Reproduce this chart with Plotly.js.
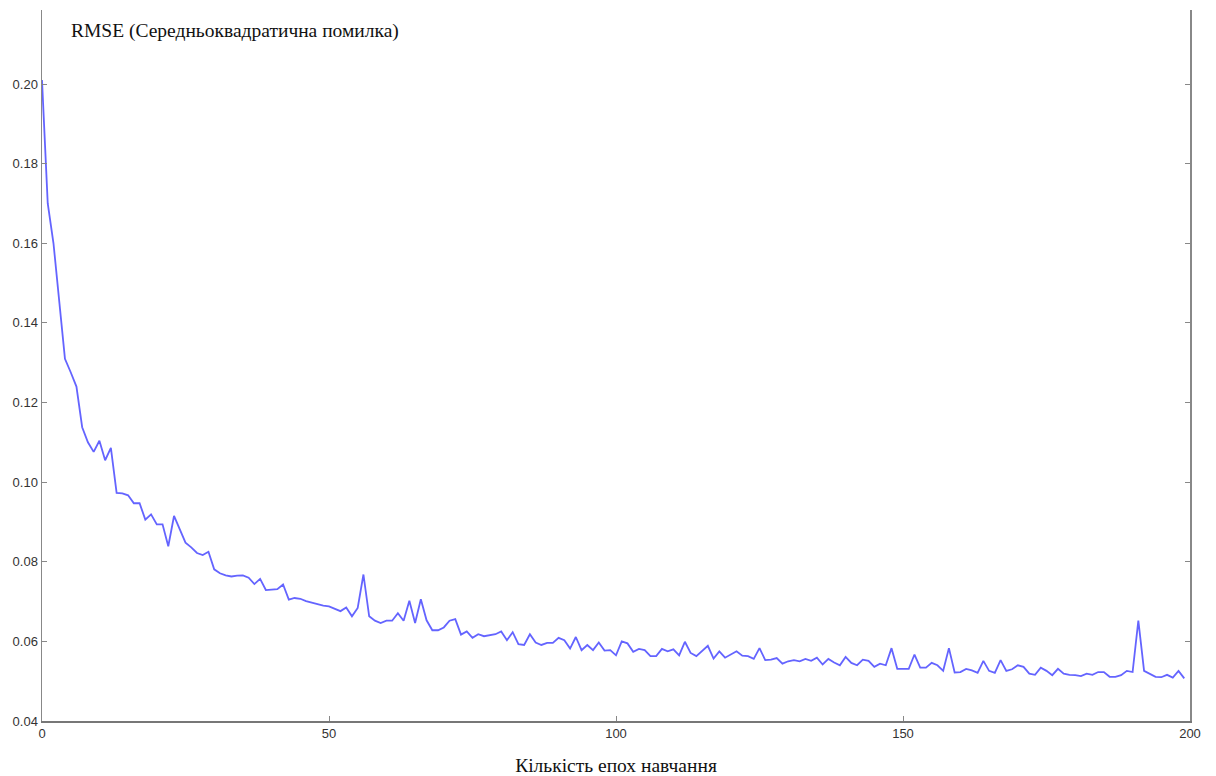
<!DOCTYPE html>
<html>
<head>
<meta charset="utf-8">
<script src="https://cdn.plot.ly/plotly-3.0.1.min.js"></script>
<style>
  html, body { margin: 0; padding: 0; background: #ffffff; }
  #chart { width: 1216px; height: 776px; }
</style>
</head>
<body>
<div id="chart"></div>
<script>
// RMSE per training epoch (epochs 0..199)
const rmse = [
  0.201, 0.170, 0.160, 0.146, 0.131, 0.1276, 0.124, 0.1138, 0.110, 0.1076,
  0.1104, 0.1055, 0.1086, 0.0973, 0.0972, 0.0967, 0.0947, 0.0947, 0.0906, 0.0919,
  0.0894, 0.0894, 0.0839, 0.0915, 0.0879, 0.0848, 0.0836, 0.0822, 0.0817, 0.0825,
  0.0781, 0.0771, 0.0766, 0.0763, 0.0765, 0.0766, 0.0760, 0.0744, 0.0757, 0.0729,
  0.0730, 0.0731, 0.0743, 0.0705, 0.0709, 0.0707, 0.0701, 0.0697, 0.0693, 0.0690,
  0.0688, 0.0682, 0.0676, 0.0685, 0.0663, 0.0684, 0.0768, 0.0663, 0.0652, 0.0646,
  0.0652, 0.0652, 0.0671, 0.0652, 0.0702, 0.0646, 0.0706, 0.0653, 0.0628, 0.0628,
  0.0635, 0.0652, 0.0656, 0.0617, 0.0625, 0.0609, 0.0618, 0.0613, 0.0616, 0.0618,
  0.0625, 0.0603, 0.0623, 0.0593, 0.0591, 0.0618, 0.0597, 0.0591, 0.0596, 0.0596,
  0.0609, 0.0603, 0.0582, 0.0611, 0.0578, 0.0591, 0.0578, 0.0597, 0.0577, 0.0578,
  0.0565, 0.0600, 0.0595, 0.0574, 0.0581, 0.0578, 0.0563, 0.0563, 0.0581, 0.0575,
  0.0580, 0.0565, 0.0599, 0.0571, 0.0563, 0.0577, 0.0589, 0.0557, 0.0575, 0.0559,
  0.0567, 0.0575, 0.0564, 0.0563, 0.0556, 0.0583, 0.0553, 0.0554, 0.0558, 0.0544,
  0.0550, 0.0553, 0.0550, 0.0556, 0.0551, 0.0559, 0.0542, 0.0556, 0.0547, 0.0540,
  0.0561, 0.0546, 0.0540, 0.0554, 0.0551, 0.0536, 0.0544, 0.0540, 0.0583, 0.0531,
  0.0531, 0.0531, 0.0567, 0.0534, 0.0534, 0.0546, 0.0540, 0.0526, 0.0583, 0.0522,
  0.0523, 0.0531, 0.0527, 0.0521, 0.0551, 0.0526, 0.0521, 0.0553, 0.0526, 0.0530,
  0.0540, 0.0536, 0.0519, 0.0516, 0.0534, 0.0526, 0.0515, 0.0531, 0.0519, 0.0516,
  0.0515, 0.0513, 0.0519, 0.0516, 0.0523, 0.0523, 0.0511, 0.0511, 0.0515, 0.0526,
  0.0523, 0.0652, 0.0526, 0.0518, 0.0511, 0.0510, 0.0516, 0.0509, 0.0526, 0.0507
];

const xTickVals = [0, 50, 100, 150, 200];
const xTickText = ["0", "50", "100", "150", "200"];
const yTickVals = [0.04, 0.06, 0.08, 0.10, 0.12, 0.14, 0.16, 0.18, 0.20];
const yTickText = ["0.04", "0.06", "0.08", "0.10", "0.12", "0.14", "0.16", "0.18", "0.20"];

const chartTitle = "RMSE (Середньоквадратична помилка)";
const xTitle = "Кількість епох навчання";

const trace = {
  type: "scatter",
  mode: "lines",
  y: rmse,
  x0: 0,
  dx: 1,
  line: { color: "rgba(40,40,255,0.72)", width: 1.8 },
  hoverinfo: "x+y"
};

const layout = {
  width: 1216,
  height: 776,
  margin: { l: 42, r: 26, t: 10, b: 55, pad: 0 },
  paper_bgcolor: "#ffffff",
  plot_bgcolor: "#ffffff",
  showlegend: false,
  font: { family: "Liberation Sans, Arial, sans-serif", size: 13, color: "#333333" },
  xaxis: {
    range: [0, 200],
    tickvals: xTickVals,
    ticktext: xTickText,
    ticks: "inside",
    ticklen: 5,
    tickcolor: "#888888",
    showgrid: false,
    zeroline: false,
    showline: true,
    linecolor: "#777777",
    linewidth: 1.5,
    mirror: false,
    tickfont: { family: "Liberation Sans, Arial, sans-serif", size: 13, color: "#333333" },
    title: {
      text: xTitle,
      font: { family: "Liberation Serif, Times New Roman, serif", size: 19.5, color: "#111111" },
      standoff: 20
    }
  },
  yaxis: {
    range: [0.04, 0.2186],
    tickvals: yTickVals,
    ticktext: yTickText,
    ticks: "inside",
    ticklen: 5,
    tickcolor: "#888888",
    showgrid: false,
    zeroline: false,
    showline: true,
    linecolor: "#888888",
    linewidth: 1.5,
    mirror: "ticks",
    tickfont: { family: "Liberation Sans, Arial, sans-serif", size: 13, color: "#333333" }
  },
  annotations: [{
    text: chartTitle,
    xref: "paper", yref: "paper",
    x: 0.0235, y: 0.970,
    xanchor: "left", yanchor: "middle",
    showarrow: false,
    font: { family: "Liberation Serif, Times New Roman, serif", size: 19.5, color: "#111111" }
  }]
};

Plotly.newPlot("chart", [trace], layout, { displayModeBar: false, staticPlot: true });
</script>
</body>
</html>
